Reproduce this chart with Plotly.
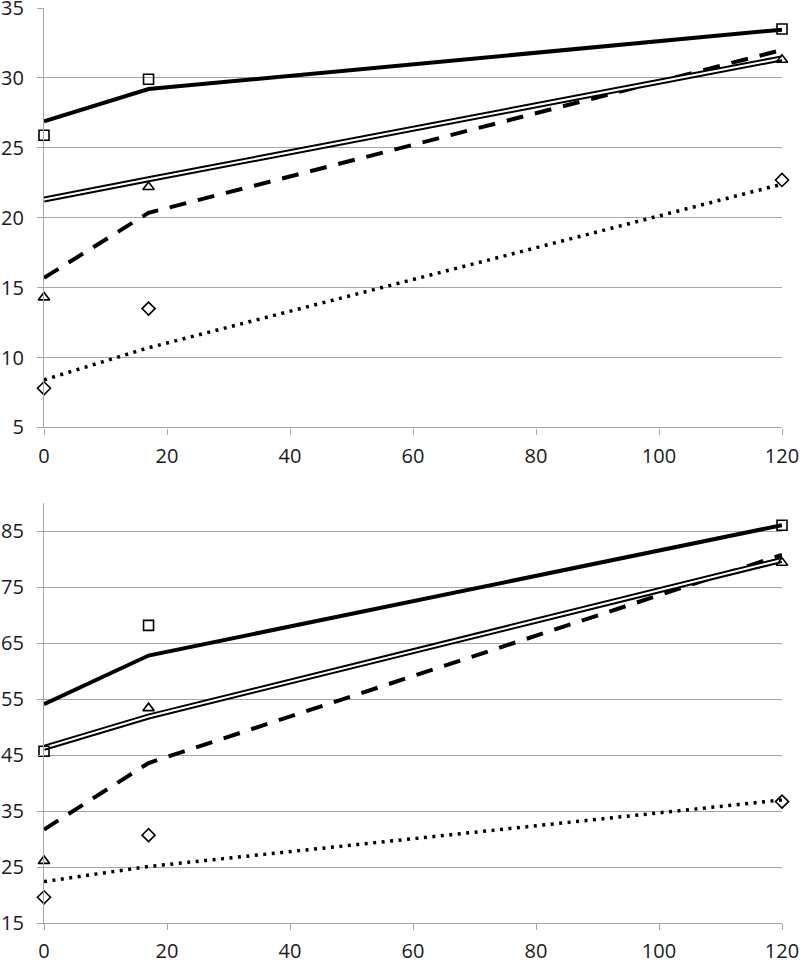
import plotly.graph_objects as go
from plotly.subplots import make_subplots

# ---- data ----
x_vals = [0, 17, 120]

# top panel
top_squares = [25.9, 29.9, 33.5]
top_triangles = [14.3, 22.2, 31.3]
top_diamonds = [7.8, 13.5, 22.7]
top_solid = [26.9, 29.2, 33.45]
top_double = [21.3, 22.75, 31.4]
top_dashed = [15.7, 20.35, 32.0]
top_dotted = [8.4, 10.7, 22.4]

# bottom panel
bot_squares = [45.7, 68.2, 86.1]
bot_triangles = [26.1, 53.4, 79.4]
bot_diamonds = [19.6, 30.7, 36.7]
bot_solid = [54.1, 62.8, 86.1]
bot_double = [46.3, 51.9, 79.9]
bot_dashed = [31.7, 43.6, 80.8]
bot_dotted = [22.4, 25.1, 37.0]

x_ticks = [0, 20, 40, 60, 80, 100, 120]
top_y_ticks = [5, 10, 15, 20, 25, 30, 35]
bot_y_ticks = [15, 25, 35, 45, 55, 65, 75, 85]

fig = make_subplots(rows=2, cols=1, vertical_spacing=0.0)

GRID = "#a6a6a6"
BLACK = "#000000"


def add_panel(row, solid, double, dashed, dotted, squares, triangles, diamonds):
    def line(y, **kw):
        fig.add_trace(go.Scatter(x=x_vals, y=y, mode="lines", showlegend=False,
                                 hoverinfo="skip", cliponaxis=False, **kw), row=row, col=1)

    line(dotted, line=dict(color=BLACK, width=3.5, dash="3px,5.5px"))
    line(dashed, line=dict(color=BLACK, width=4, dash="17px,12px"))
    line(double, line=dict(color=BLACK, width=6))
    line(double, line=dict(color="#ffffff", width=2))
    line(solid, line=dict(color=BLACK, width=4))

    def markers(y, symbol, size):
        fig.add_trace(go.Scatter(x=x_vals, y=y, mode="markers", showlegend=False,
                                 cliponaxis=False,
                                 marker=dict(symbol=symbol, size=size, color=BLACK,
                                             line=dict(color=BLACK, width=1.6))),
                      row=row, col=1)

    markers(squares, "square-open", 10)
    markers(triangles, "triangle-up-open", 10)
    markers(diamonds, "diamond-open", 10)


add_panel(1, top_solid, top_double, top_dashed, top_dotted,
          top_squares, top_triangles, top_diamonds)
add_panel(2, bot_solid, bot_double, bot_dashed, bot_dotted,
          bot_squares, bot_triangles, bot_diamonds)

font = dict(family="Open Sans, Liberation Sans, sans-serif", size=20, color="#1a1a1a")

common_x = dict(range=[0, 120], tickvals=x_ticks, showgrid=False, zeroline=False,
                showline=True, linecolor=GRID, linewidth=1.3,
                ticks="outside", ticklen=6, tickcolor=GRID, tickwidth=1.3,
                tickfont=font, ticklabeloverflow="allow", ticklabelstandoff=4,
                automargin=False)
common_y = dict(showgrid=True, gridcolor=GRID, gridwidth=1.3, zeroline=False,
                showline=True, linecolor=GRID, linewidth=1.3,
                ticks="outside", ticklen=6, tickcolor=GRID, tickwidth=1.3,
                tickfont=font, ticklabeloverflow="allow", ticklabelstandoff=9,
                automargin=False)

fig.update_xaxes(**common_x, domain=[0, 1], row=1, col=1)
fig.update_xaxes(**common_x, domain=[0, 1], row=2, col=1)
fig.update_yaxes(**common_y, range=[5, 35], tickvals=top_y_ticks,
                 domain=[0.5416, 1.0], row=1, col=1)
fig.update_yaxes(**common_y, range=[15, 90], tickvals=bot_y_ticks,
                 domain=[0.0, 0.4586], row=2, col=1)

fig.update_layout(
    width=800, height=961,
    margin=dict(l=44, r=18, t=8, b=38, autoexpand=False),
    paper_bgcolor="white", plot_bgcolor="white",
    showlegend=False,
)

fig.write_html("out.html", config={"displayModeBar": False},
               post_script="document.body.style.margin='0';document.body.style.overflow='hidden';")
